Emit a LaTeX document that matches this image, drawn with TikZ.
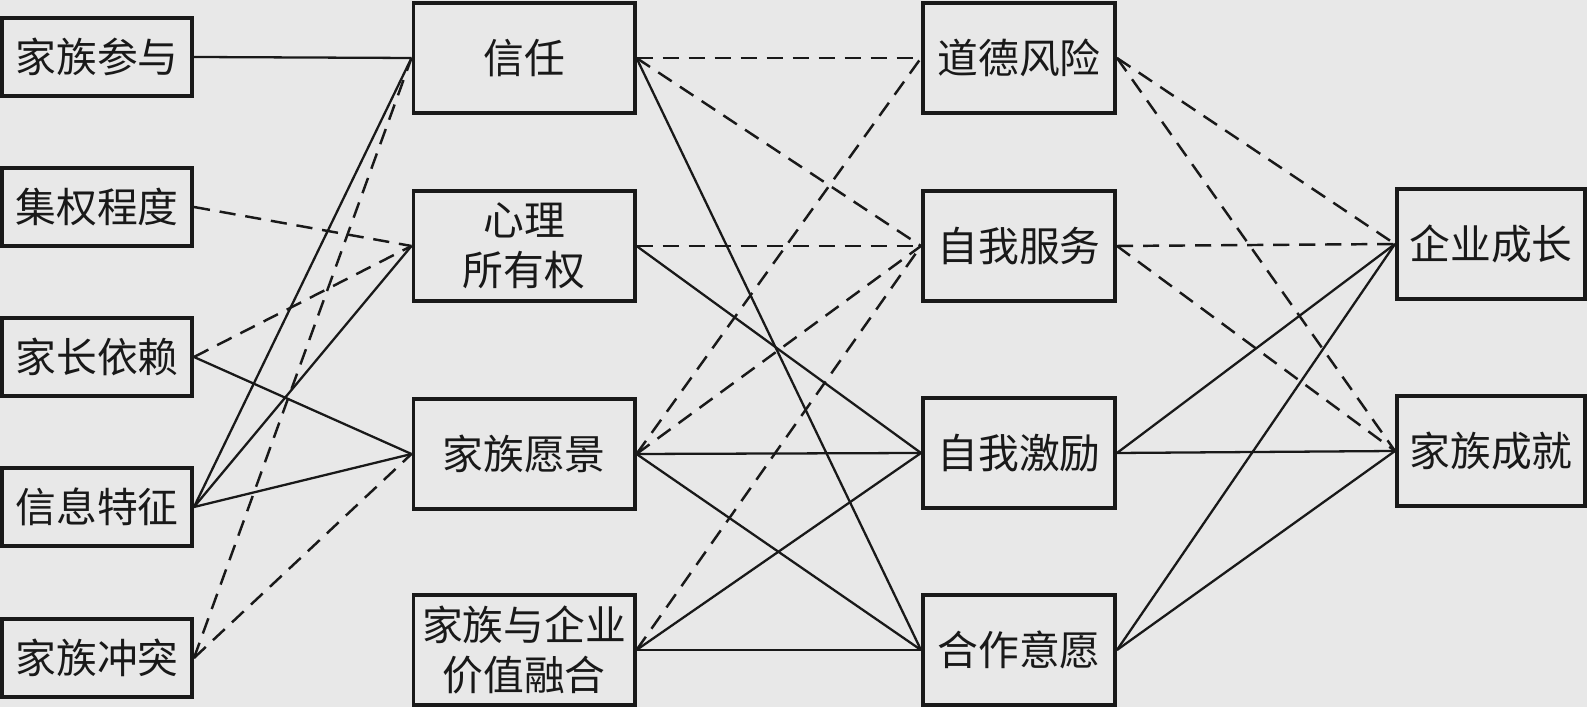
\documentclass[tikz,border=0pt]{standalone}
\usepackage{fontspec}
\newfontfamily\cjk{Noto Sans CJK SC}
\usetikzlibrary{positioning}
\definecolor{bg}{RGB}{232,232,232}
\definecolor{ink}{RGB}{25,25,25}

\begin{document}
\begin{tikzpicture}[x=0.01cm, y=-0.01cm,
  every node/.style={font=\cjk\fontsize{11.6}{14.2}\selectfont, text=ink},
  box/.style={draw=ink, line width=1.1pt, fill=bg, align=center, inner sep=0pt, minimum height=1.1cm},
  sline/.style={draw=ink, line width=0.65pt},
  dline/.style={draw=ink, line width=0.7pt, dash pattern=on 4.6pt off 2.8pt}]
\fill[bg] (0,0) rectangle (1587,707);
\useasboundingbox (0,0) rectangle (1587,707);
% left column
\node[box, minimum width=1.9cm, minimum height=0.78cm] (canyu) at (97,57) {家族参与};
\node[box, minimum width=1.9cm, minimum height=0.78cm] (jiquan) at (97,207) {集权程度};
\node[box, minimum width=1.9cm, minimum height=0.78cm] (yilai) at (97,357) {家长依赖};
\node[box, minimum width=1.9cm, minimum height=0.78cm] (xinxi) at (97,507) {信息特征};
\node[box, minimum width=1.9cm, minimum height=0.78cm] (chongtu) at (97,658) {家族冲突};
% second column
\node[box, minimum width=2.21cm] (xinren) at (524,58) {信任};
\node[box, minimum width=2.21cm] (suoyou) at (524,246) {心理\\所有权};
\node[box, minimum width=2.21cm] (yuanjing) at (524,454) {家族愿景};
\node[box, minimum width=2.21cm] (ronghe) at (524,650) {家族与企业\\价值融合};
% third column
\node[box, minimum width=1.92cm] (daode) at (1019,58) {道德风险};
\node[box, minimum width=1.92cm] (fuwu) at (1019,246) {自我服务};
\node[box, minimum width=1.92cm] (jili) at (1019,453) {自我激励};
\node[box, minimum width=1.92cm] (hezuo) at (1019,650) {合作意愿};
% right column
\node[box, minimum width=1.88cm] (chengzhang) at (1491,244) {企业成长};
\node[box, minimum width=1.88cm] (chengjiu) at (1491,451) {家族成就};
% left -> second
\draw[sline] (canyu.east) -- (xinren.west);
\draw[dline] (jiquan.east) -- (suoyou.west);
\draw[dline] (yilai.east) -- (suoyou.west);
\draw[sline] (yilai.east) -- (yuanjing.west);
\draw[sline] (xinxi.east) -- (xinren.west);
\draw[sline] (xinxi.east) -- (suoyou.west);
\draw[sline] (xinxi.east) -- (yuanjing.west);
\draw[dline] (chongtu.east) -- (xinren.west);
\draw[dline] (chongtu.east) -- (yuanjing.west);
% second -> third
\draw[dline] (xinren.east) -- (daode.west);
\draw[dline] (xinren.east) -- (fuwu.west);
\draw[sline] (xinren.east) -- (hezuo.west);
\draw[dline] (suoyou.east) -- (fuwu.west);
\draw[sline] (suoyou.east) -- (jili.west);
\draw[dline] (yuanjing.east) -- (daode.west);
\draw[dline] (yuanjing.east) -- (fuwu.west);
\draw[sline] (yuanjing.east) -- (jili.west);
\draw[sline] (yuanjing.east) -- (hezuo.west);
\draw[dline] (ronghe.east) -- (fuwu.west);
\draw[sline] (ronghe.east) -- (jili.west);
\draw[sline] (ronghe.east) -- (hezuo.west);
% third -> right
\draw[dline] (daode.east) -- (chengzhang.west);
\draw[dline] (daode.east) -- (chengjiu.west);
\draw[dline] (fuwu.east) -- (chengzhang.west);
\draw[dline] (fuwu.east) -- (chengjiu.west);
\draw[sline] (jili.east) -- (chengzhang.west);
\draw[sline] (jili.east) -- (chengjiu.west);
\draw[sline] (hezuo.east) -- (chengzhang.west);
\draw[sline] (hezuo.east) -- (chengjiu.west);
\end{tikzpicture}
\end{document}
